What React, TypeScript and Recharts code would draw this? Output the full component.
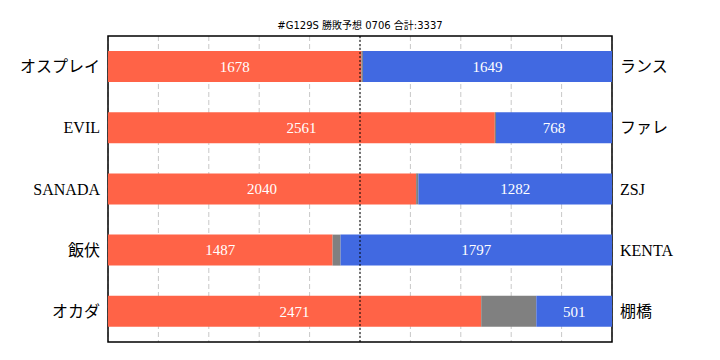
import React from 'react'
import { BarChart, Bar, XAxis, YAxis, CartesianGrid, ReferenceLine, ReferenceArea, LabelList } from 'recharts'

const leftNames = ['オスプレイ', 'EVIL', 'SANADA', '飯伏', 'オカダ']
const rightNames = ['ランス', 'ファレ', 'ZSJ', 'KENTA', '棚橋']
const leftVotes = [1678, 2561, 2040, 1487, 2471]
const drawVotes = [10, 8, 15, 53, 365]
const rightVotes = [1649, 768, 1282, 1797, 501]
const total = 3337

const data = leftNames.map((name, i) => ({
  left: name,
  right: rightNames[i],
  a: leftVotes[i],
  d: drawVotes[i],
  b: rightVotes[i],
}))

// grid at 10 equal divisions of the vote total
const gridTicks = Array.from({ length: 11 }, (_, k) => (total * k) / 10)

const serif = '"Liberation Serif", "Noto Sans CJK JP", serif'

export default function App() {
  return (
    <div style={{ position: 'absolute', left: 0, top: 0, width: 720, height: 360, background: '#fff' }}>
      <div
        style={{
          position: 'absolute',
          top: 19,
          left: 0,
          width: 720,
          textAlign: 'center',
          fontFamily: '"DejaVu Sans", "Noto Sans CJK JP", sans-serif',
          fontSize: 10,
          lineHeight: '14px',
          color: '#000',
        }}
      >
        #G129S 勝敗予想 0706 合計:3337
      </div>
      <BarChart
        width={720}
        height={360}
        data={data}
        layout="vertical"
        margin={{ top: 36, right: 0, bottom: 18, left: 0 }}
        barSize={31}
      >
        <CartesianGrid
          xAxisId="bottom"
          yAxisId="left"
          horizontal={false}
          stroke="#c8c8c8"
          strokeDasharray="5 3"
        />
        <XAxis
          xAxisId="bottom"
          type="number"
          domain={[0, total]}
          ticks={gridTicks}
          interval={0}
          tick={{ fill: 'transparent', fontSize: 1 }}
          tickLine={false}
          height={0}
          axisLine={false}
        />
        <YAxis
          yAxisId="left"
          type="category"
          dataKey="left"
          width={108}
          tickLine={false}
          tickSize={0}
          tickMargin={8}
          axisLine={false}
          tick={{ fill: '#000', fontSize: 16, fontFamily: serif }}
        />
        <YAxis
          yAxisId="right"
          orientation="right"
          type="category"
          dataKey="right"
          width={108}
          tickLine={false}
          tickSize={0}
          tickMargin={8}
          axisLine={false}
          tick={{ fill: '#000', fontSize: 16, fontFamily: serif, textAnchor: 'start' }}
        />
        <Bar dataKey="a" stackId="s" xAxisId="bottom" yAxisId="left" fill="#FF6347" isAnimationActive={false}>
          <LabelList dataKey="a" position="center" fill="#fff" fontSize={15} fontFamily={serif} />
        </Bar>
        <Bar dataKey="d" stackId="s" xAxisId="bottom" yAxisId="left" fill="#808080" isAnimationActive={false} />
        <Bar dataKey="b" stackId="s" xAxisId="bottom" yAxisId="left" fill="#4169E1" isAnimationActive={false}>
          <LabelList dataKey="b" position="center" fill="#fff" fontSize={15} fontFamily={serif} />
        </Bar>
        <ReferenceLine x={total / 2} xAxisId="bottom" yAxisId="left" stroke="#000" strokeDasharray="2 2" />
        <ReferenceArea
          x1={0}
          x2={total}
          xAxisId="bottom"
          yAxisId="left"
          fill="none"
          fillOpacity={0}
          stroke="#000"
          strokeWidth={1.5}
        />
      </BarChart>
    </div>
  )
}
